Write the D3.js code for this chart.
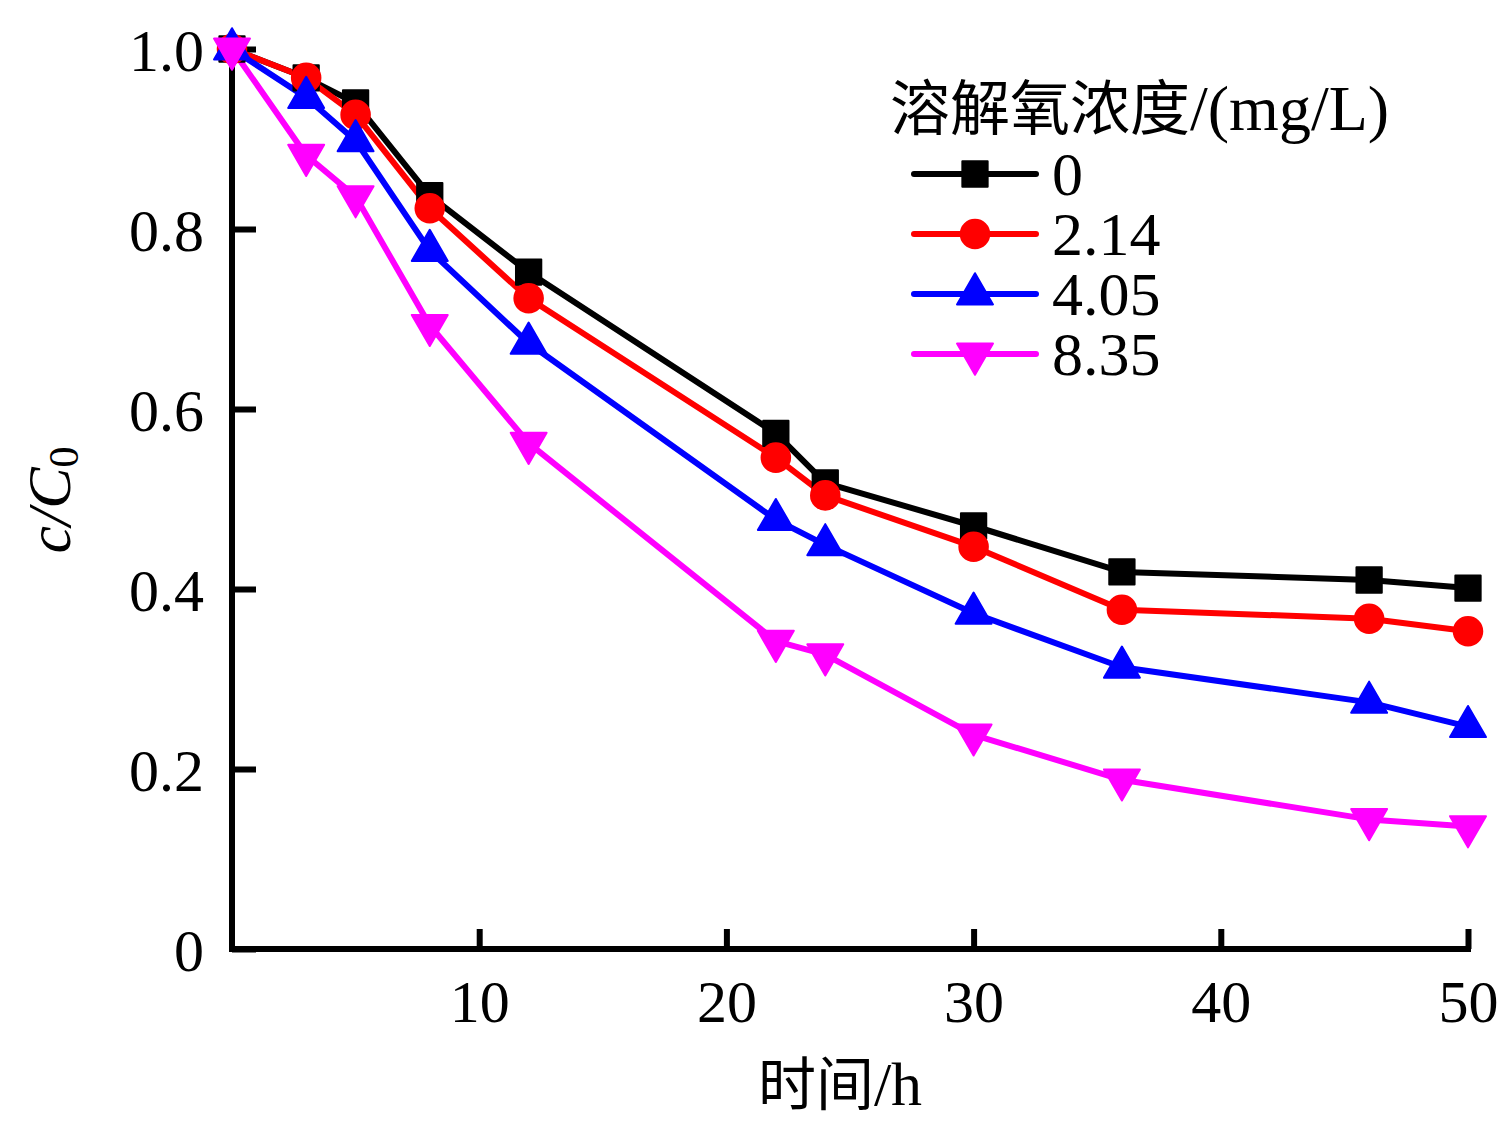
<!DOCTYPE html>
<html>
<head>
<meta charset="utf-8">
<script src="https://cdn.jsdelivr.net/npm/d3@7"></script>
<style>
  body { margin: 0; background: #fff; }
  .serif { font-family: "Liberation Serif", "DejaVu Serif", serif; }
  .cjk { font-family: "Noto Sans CJK SC", sans-serif; }
</style>
</head>
<body>
<div id="chart"></div>
<script>
// time points (h)
var times = [0, 3, 5, 8, 12, 22, 24, 30, 36, 46, 50];

// c/C0 for each dissolved oxygen level
var do0    = [1.0, 0.968, 0.940, 0.837, 0.752, 0.573, 0.518, 0.470, 0.419, 0.410, 0.401];
var do214  = [1.0, 0.968, 0.927, 0.823, 0.723, 0.546, 0.504, 0.447, 0.377, 0.367, 0.353];
var do405  = [1.0, 0.946, 0.898, 0.776, 0.673, 0.477, 0.449, 0.373, 0.313, 0.274, 0.247];
var do835  = [1.0, 0.882, 0.836, 0.693, 0.562, 0.342, 0.327, 0.238, 0.188, 0.144, 0.136];

var seriesNames = ["0", "2.14", "4.05", "8.35"];
var xTicks = [10, 20, 30, 40, 50];
var yTicks = [0, 0.2, 0.4, 0.6, 0.8, 1.0];

var W = 1500, H = 1125;
var margin = {left: 232, top: 49, right: 32, bottom: 176};

var svg = d3.select("#chart").append("svg")
    .attr("width", W).attr("height", H);

var x = d3.scaleLinear().domain([0, 50]).range([margin.left, W - margin.right]);
var y = d3.scaleLinear().domain([0, 1.0]).range([H - margin.bottom, margin.top]);

// series config
var colors = ["#000000", "#ff0000", "#0000ff", "#ff00ff"];
var shapes = [d3.symbolSquare, d3.symbolCircle, d3.symbolTriangle, d3.symbolTriangle];
var sizes = [640, 640, 560, 560];
var rot = [0, 0, 0, 180];
var allData = [do0, do214, do405, do835];

// axes
var yAxis = svg.append("g")
    .attr("transform", "translate(" + x(0) + ",0)")
    .call(d3.axisLeft(y).tickValues(yTicks).tickSize(-24).tickPadding(28)
      .tickFormat(function (d) { return d === 0 ? "0" : d3.format(".1f")(d); }));
yAxis.select(".domain").attr("d", "M0," + (y(1.0) - 2) + "V" + (y(0) + 3));

var xAxis = svg.append("g")
    .attr("transform", "translate(0," + y(0) + ")")
    .call(d3.axisBottom(x).tickValues(xTicks).tickSize(-20).tickPadding(30));
xAxis.select(".domain").attr("d", "M" + (x(0) - 3) + ",0H" + (x(50) + 3));

svg.selectAll(".domain").attr("stroke", "#000").attr("stroke-width", 6);
svg.selectAll(".tick line").attr("stroke", "#000").attr("stroke-width", 6);
svg.selectAll(".tick text")
    .attr("class", "serif")
    .style("font-size", "60px")
    .attr("fill", "#000");
yAxis.selectAll(".tick text").attr("dy", "0.35em");

// lines + markers
var line = d3.line()
    .x(function (d, i) { return x(times[i]); })
    .y(function (d) { return y(d); });

allData.forEach(function (vals, k) {
  svg.append("path")
    .datum(vals)
    .attr("d", line)
    .attr("fill", "none")
    .attr("stroke", colors[k])
    .attr("stroke-width", 6)
    .attr("stroke-linejoin", "round");
});
allData.forEach(function (vals, k) {
  svg.append("g").selectAll("path")
    .data(vals)
    .enter().append("path")
    .attr("d", d3.symbol().type(shapes[k]).size(sizes[k]))
    .attr("transform", function (d, i) {
      return "translate(" + x(times[i]) + "," + y(d) + ") rotate(" + rot[k] + ")";
    })
    .attr("fill", colors[k])
    .attr("stroke", colors[k])
    .attr("stroke-width", 2)
    .attr("stroke-linejoin", "round");
});

// legend
var lg = svg.append("g").attr("transform", "translate(890,0)");
var title = lg.append("text").attr("x", 0).attr("y", 130).style("font-size", "60px");
title.append("tspan").attr("class", "cjk").text("溶解氧浓度");
title.append("tspan").attr("class", "serif").style("font-size", "64px").text("/(mg/L)");

seriesNames.forEach(function (name, k) {
  var ly = 174 + k * 60;
  lg.append("line")
    .attr("x1", 24).attr("x2", 146).attr("y1", ly).attr("y2", ly)
    .attr("stroke", colors[k]).attr("stroke-width", 6).attr("stroke-linecap", "round");
  lg.append("path")
    .attr("d", d3.symbol().type(shapes[k]).size(sizes[k]))
    .attr("transform", "translate(85," + ly + ") rotate(" + rot[k] + ")")
    .attr("fill", colors[k]).attr("stroke", colors[k]).attr("stroke-width", 2)
    .attr("stroke-linejoin", "round");
  lg.append("text")
    .attr("class", "serif")
    .attr("x", 162).attr("y", ly + 21)
    .style("font-size", "62px")
    .text(name);
});

// axis titles
var xt = svg.append("text")
    .attr("x", 840).attr("y", 1105)
    .attr("text-anchor", "middle")
    .style("font-size", "58px");
xt.append("tspan").attr("class", "cjk").text("时间");
xt.append("tspan").attr("class", "serif").style("font-size", "62px").text("/h");

var yt = svg.append("text")
    .attr("class", "serif")
    .attr("transform", "translate(70,500) rotate(-90)")
    .attr("text-anchor", "middle")
    .style("font-size", "62px")
    .style("font-style", "italic");
yt.append("tspan").text("c/C");
yt.append("tspan").attr("font-style", "normal").style("font-size", "42px").attr("dy", "8").text("0");
</script>
</body>
</html>
